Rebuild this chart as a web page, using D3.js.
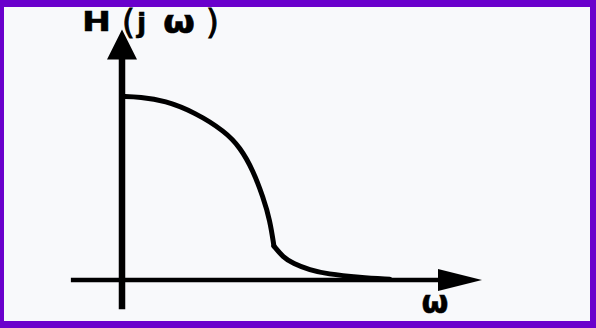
<!DOCTYPE html>
<html><head><meta charset="utf-8">
<script src="https://cdn.jsdelivr.net/npm/d3@7"></script>
<style>html,body{margin:0;padding:0;background:#fff;}svg{display:block;}</style>
</head><body>
<script>
// Frequency response |H(jω)| (arbitrary units)
const passOmega = [0, 0.5, 1.19, 2.03, 2.86, 3.28, 3.64, 3.92, 4.11, 4.22];
const passH     = [1.0, 0.997, 0.978, 0.913, 0.810, 0.723, 0.598, 0.451, 0.326, 0.185];
const tailOmega = [4.22, 4.47, 4.75, 5.22, 5.69, 6.61, 7.44];
const tailH     = [0.185, 0.125, 0.090, 0.054, 0.033, 0.014, 0.004];
const yLabel = "H（j ω）";
const xLabel = "ω";

const W = 596, H = 328;
const svg = d3.select("body").append("svg").attr("width", W).attr("height", H);

// background and purple frame
svg.append("rect").attr("x",0).attr("y",0).attr("width",W).attr("height",H).attr("fill","#6a00cc");
svg.append("rect").attr("x",4).attr("y",7).attr("width",586).attr("height",314).attr("fill","#f8f9fb");

const x = d3.scaleLinear().domain([0, 10]).range([122, 482]);
const y = d3.scaleLinear().domain([0, 1]).range([280, 96.5]);

// vertical axis with arrow
const yTop = 1.365, yBot = -0.16, headLen = 30, headHalf = 15;
svg.append("line").attr("x1", x(0)).attr("x2", x(0))
  .attr("y1", y(yBot)).attr("y2", y(yTop) + headLen - 1)
  .attr("stroke", "#000").attr("stroke-width", 6.5);
svg.append("path")
  .attr("d", `M${x(0)},${y(yTop)} L${x(0)-headHalf},${y(yTop)+headLen} L${x(0)+headHalf},${y(yTop)+headLen}Z`)
  .attr("fill", "#000");

// horizontal axis with arrow
const xLeft = -1.42, xRight = 10, hLen = 44, hHalf = 11;
svg.append("line").attr("x1", x(xLeft)).attr("x2", x(xRight) - hLen + 1)
  .attr("y1", y(0)).attr("y2", y(0))
  .attr("stroke", "#000").attr("stroke-width", 4.5);
svg.append("path")
  .attr("d", `M${x(xRight)},${y(0)} L${x(xRight)-hLen},${y(0)-hHalf} L${x(xRight)-hLen},${y(0)+hHalf}Z`)
  .attr("fill", "#000");

// response curve (two pieces with a kink between them)
const line = d3.line().x(d => x(d[0])).y(d => y(d[1])).curve(d3.curveBasis);
const pass = passOmega.map((w, i) => [w, passH[i]]);
const tail = tailOmega.map((w, i) => [w, tailH[i]]);
[pass, tail].forEach(seg => {
  svg.append("path").attr("d", line(seg))
    .attr("fill", "none").attr("stroke", "#000")
    .attr("stroke-width", 5).attr("stroke-linecap", "round").attr("stroke-linejoin", "round");
});

// y label "H（j ω）", each glyph placed like the original
const parts = Array.from(yLabel).filter(c => c !== " ");
const partX = [82, 122, 137, 163, 206];
const partStyle = {
  "H": {size: 26, weight: "bold", base: 31, len: 29},
  "（": {size: 33, weight: "normal", base: 34},
  "j": {size: 27, weight: "bold", base: 32},
  "ω": {size: 31, weight: "bold", base: 33, len: 32},
  "）": {size: 33, weight: "normal", base: 34}
};
const lab = svg.append("g").attr("font-family", "'DejaVu Sans', sans-serif").attr("fill", "#000");
parts.forEach((c, i) => {
  const s = partStyle[c];
  const ch = c === "（" ? "(" : c === "）" ? ")" : c;
  const t = lab.append("text").attr("x", partX[i]).attr("y", s.base)
    .attr("font-size", s.size).attr("font-weight", s.weight)
    .attr("stroke", "#000").attr("stroke-width", s.weight === "normal" ? 0.9 : 0.5)
    .text(ch);
  if (s.len) t.attr("textLength", s.len).attr("lengthAdjust", "spacingAndGlyphs");
});

svg.append("text").attr("x", 435).attr("y", 313).attr("text-anchor", "middle")
  .attr("font-family", "'DejaVu Sans', sans-serif")
  .attr("font-weight", "bold").attr("font-size", 31).attr("fill", "#000")
  .attr("stroke", "#000").attr("stroke-width", 0.5)
  .text(xLabel);
</script>
</body></html>
